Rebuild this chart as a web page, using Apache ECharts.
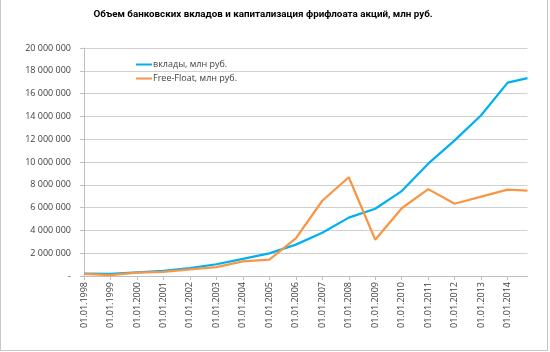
<!DOCTYPE html>
<html>
<head>
<meta charset="utf-8">
<script src="https://cdn.jsdelivr.net/npm/echarts@6/dist/echarts.min.js"></script>
<style>
html,body{margin:0;padding:0;background:#fff;}
#frame{position:absolute;left:0;top:-1px;width:546px;height:350px;border:1px solid #c6c6c6;}
#chart{position:absolute;left:0;top:0;width:550px;height:352px;}
</style>
</head>
<body>
<div id="frame"></div>
<div id="chart"></div>
<script>
// Dates of observations (last one is 01.10.2014)
const dates = ['01.01.1998','01.01.1999','01.01.2000','01.01.2001','01.01.2002','01.01.2003',
  '01.01.2004','01.01.2005','01.01.2006','01.01.2007','01.01.2008','01.01.2009',
  '01.01.2010','01.01.2011','01.01.2012','01.01.2013','01.01.2014','01.10.2014'];
// вклады, млн руб.
const deposits = [200000, 180000, 320000, 450000, 690000, 1030000, 1500000, 1990000, 2750000,
  3800000, 5120000, 5900000, 7450000, 9850000, 11900000, 14100000, 16960000, 17350000];
// Free-Float, млн руб.
const freeFloat = [180000, 80000, 300000, 360000, 580000, 780000, 1280000, 1430000, 3300000,
  6600000, 8660000, 3180000, 5940000, 7620000, 6340000, 6960000, 7580000, 7480000];
const seriesNames = ['вклады, млн руб.', 'Free-Float, млн руб.'];
const titleText = 'Объем банковских вкладов и капитализация фрифлоата акций, млн руб.';

function toYear(d){
  const p = d.split('.');
  return Number(p[2]) + (Number(p[1]) - 1) / 12 + (Number(p[0]) - 1) / 365;
}
const xs = dates.map(toYear);
const pairs = arr => arr.map((v, i) => [xs[i], v]);

function fmtY(v){
  if (v === 0) return '-';
  return String(v).replace(/\B(?=(\d{3})+(?!\d))/g, ' ');
}

const chart = echarts.init(document.getElementById('chart'), null, {renderer:'canvas'});
chart.setOption({
  animation: false,
  backgroundColor: 'transparent',
  title: {
    text: titleText,
    left: 258, top: 5, textAlign: 'center',
    textStyle: {fontFamily: 'Roboto', fontSize: 9.8, fontWeight: 'bold', color: '#000'}
  },
  legend: {
    orient: 'vertical',
    left: 131, top: 55,
    itemWidth: 16, itemHeight: 2, itemGap: 5,
    icon: 'rect',
    textStyle: {fontFamily: 'Open Sans', fontSize: 9, color: '#404040', padding: [0,0,0,-4]},
    data: seriesNames
  },
  grid: {left: 84, right: 22.5, top: 48, bottom: 76},
  xAxis: {
    type: 'value',
    min: xs[0], max: xs[xs.length - 1], interval: 1,
    axisLine: {show: true, lineStyle: {color: '#bfbfbf', width: 1}},
    axisTick: {show: true, length: 4, lineStyle: {color: '#bfbfbf'}},
    splitLine: {show: false},
    axisLabel: {
      rotate: 90, margin: 6, showMaxLabel: false,
      fontFamily: 'Open Sans', fontSize: 9, color: '#404040',
      formatter: v => Math.abs(v - Math.round(v)) < 1e-6 ? '01.01.' + Math.round(v) : ''
    }
  },
  yAxis: {
    type: 'value', min: 0, max: 20000000, interval: 2000000,
    axisLine: {show: true, lineStyle: {color: '#bfbfbf', width: 1}},
    axisTick: {show: true, length: 4, lineStyle: {color: '#bfbfbf'}},
    splitLine: {lineStyle: {color: '#d0d0d0', width: 1}},
    axisLabel: {margin: 13, fontFamily: 'Open Sans', fontSize: 9, color: '#404040', formatter: fmtY}
  },
  series: [
    {name: seriesNames[0], type: 'line', data: pairs(deposits), showSymbol: false, symbol: 'none',
     lineStyle: {color: '#00b0f0', width: 2.25}, itemStyle: {color: '#00b0f0'}},
    {name: seriesNames[1], type: 'line', data: pairs(freeFloat), showSymbol: false, symbol: 'none',
     lineStyle: {color: '#f79646', width: 2.25}, itemStyle: {color: '#f79646'}}
  ]
});
</script>
</body>
</html>
